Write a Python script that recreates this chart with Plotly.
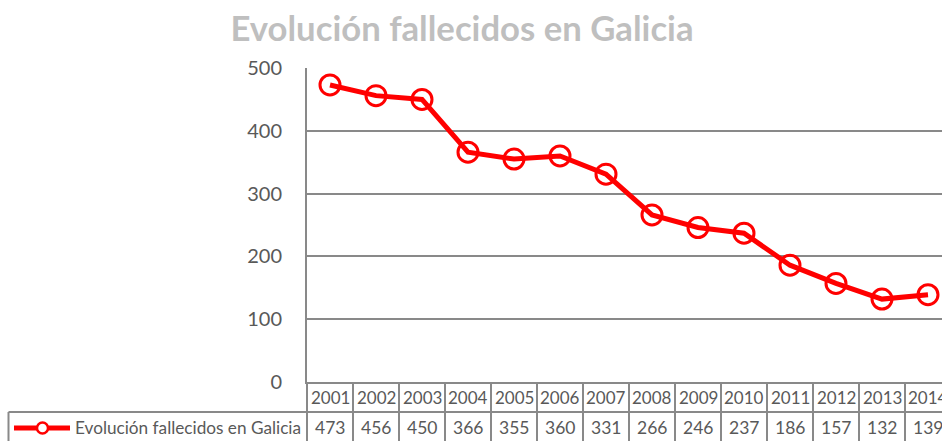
import plotly.graph_objects as go

# ---------------- data ----------------
years = ["2001", "2002", "2003", "2004", "2005", "2006", "2007",
         "2008", "2009", "2010", "2011", "2012", "2013", "2014"]
deaths = [473, 456, 450, 366, 355, 360, 331, 266, 246, 237, 186, 157, 132, 139]
y_ticks = [0, 100, 200, 300, 400, 500]
chart_title = "Evolución fallecidos en Galicia"
series_name = "Evolución fallecidos en Galicia"

# ---------------- geometry / style ----------------
W, H = 942, 441                    # figure size (body margin removed below)
L, T, B_PX = 307, 68, 382          # plot area (px)
CELL_W = 46                        # width of one category (px)
PLOT_W = W - L
PLOT_H = B_PX - T
FONT = "Lato"
TXT = "#595959"
GRID = "#898989"
RED = "#FF0000"

xs = list(range(1, len(years) + 1))
x_range = [0.5, 0.5 + PLOT_W / CELL_W]


def yp(py):
    """pixel y -> paper y"""
    return (B_PX - py) / PLOT_H


def xp(px):
    """pixel x -> paper x"""
    return (px - L) / PLOT_W


fig = go.Figure()
fig.add_trace(go.Scatter(
    x=xs, y=deaths, mode="lines+markers", name=series_name,
    line=dict(color=RED, width=5),
    marker=dict(symbol="circle-open", size=20, color=RED, line=dict(width=3)),
    cliponaxis=True, showlegend=False,
))

shapes = []
annotations = []
ROW0 = 382
ROW1 = 412      # line between header row and values row
BOTTOM = 460
for k in range(1, len(years) + 1):
    shapes.append(dict(type="line", xref="x", yref="paper",
                       x0=0.5 + k, x1=0.5 + k, y0=yp(ROW0), y1=yp(BOTTOM),
                       line=dict(color=GRID, width=2)))
shapes.append(dict(type="line", xref="paper", yref="paper",
                   x0=0, x1=0, y0=yp(ROW0), y1=yp(BOTTOM),
                   line=dict(color=GRID, width=2)))
shapes.append(dict(type="line", xref="paper", yref="paper",
                   x0=xp(8.5), x1=1.02, y0=yp(ROW1), y1=yp(ROW1),
                   line=dict(color=GRID, width=2)))
shapes.append(dict(type="line", xref="paper", yref="paper",
                   x0=xp(8.5), x1=xp(8.5), y0=yp(ROW1), y1=yp(BOTTOM),
                   line=dict(color=GRID, width=2)))
# legend key (line + marker)
shapes.append(dict(type="line", xref="paper", yref="paper",
                   x0=xp(14), x1=xp(70), y0=yp(428), y1=yp(428),
                   line=dict(color=RED, width=5)))
shapes.append(dict(type="circle", xref="paper", yref="paper",
                   x0=xp(37), x1=xp(48), y0=yp(433.5), y1=yp(422.5),
                   fillcolor="white", line=dict(color=RED, width=2.5)))

for x, yr, v in zip(xs, years, deaths):
    annotations.append(dict(x=x, y=yp(397.5), xref="x", yref="paper",
                            text=yr, showarrow=False, xanchor="center",
                            yanchor="middle",
                            font=dict(family=FONT, size=17, color=TXT)))
    annotations.append(dict(x=x, y=yp(427), xref="x", yref="paper",
                            text=str(v), showarrow=False, xanchor="center",
                            yanchor="middle",
                            font=dict(family=FONT, size=17.5, color=TXT)))
annotations.append(dict(x=xp(73), y=yp(427), xref="paper", yref="paper",
                        text=series_name, showarrow=False, xanchor="left",
                        yanchor="middle",
                        font=dict(family=FONT, size=17.2, color=TXT)))

fig.update_layout(
    width=W, height=H,
    margin=dict(l=L, r=0, t=T, b=H - B_PX, pad=0),
    paper_bgcolor="white", plot_bgcolor="white",
    title=dict(text="<b>" + chart_title + "</b>", x=462 / W,
               xanchor="center", y=1 - 29 / H, yanchor="middle",
               font=dict(family=FONT, size=34.7, color="#BFBFBF")),
    xaxis=dict(range=x_range, showticklabels=False, ticks="",
               showgrid=False, zeroline=False, showline=True,
               linecolor=GRID, linewidth=2),
    yaxis=dict(range=[0, 500], tickvals=y_ticks,
               ticks="outside", ticklen=19, tickcolor="rgba(0,0,0,0)",
               showgrid=True, gridcolor=GRID, gridwidth=1.5,
               zeroline=False, showline=True, linecolor=GRID, linewidth=2,
               tickfont=dict(family=FONT, size=20, color=TXT)),
    shapes=shapes, annotations=annotations,
    showlegend=False,
)

fig.write_html("out.html", config={"displayModeBar": False},
               post_script="document.body.style.margin='0';"
                           "document.body.style.overflow='hidden';")
